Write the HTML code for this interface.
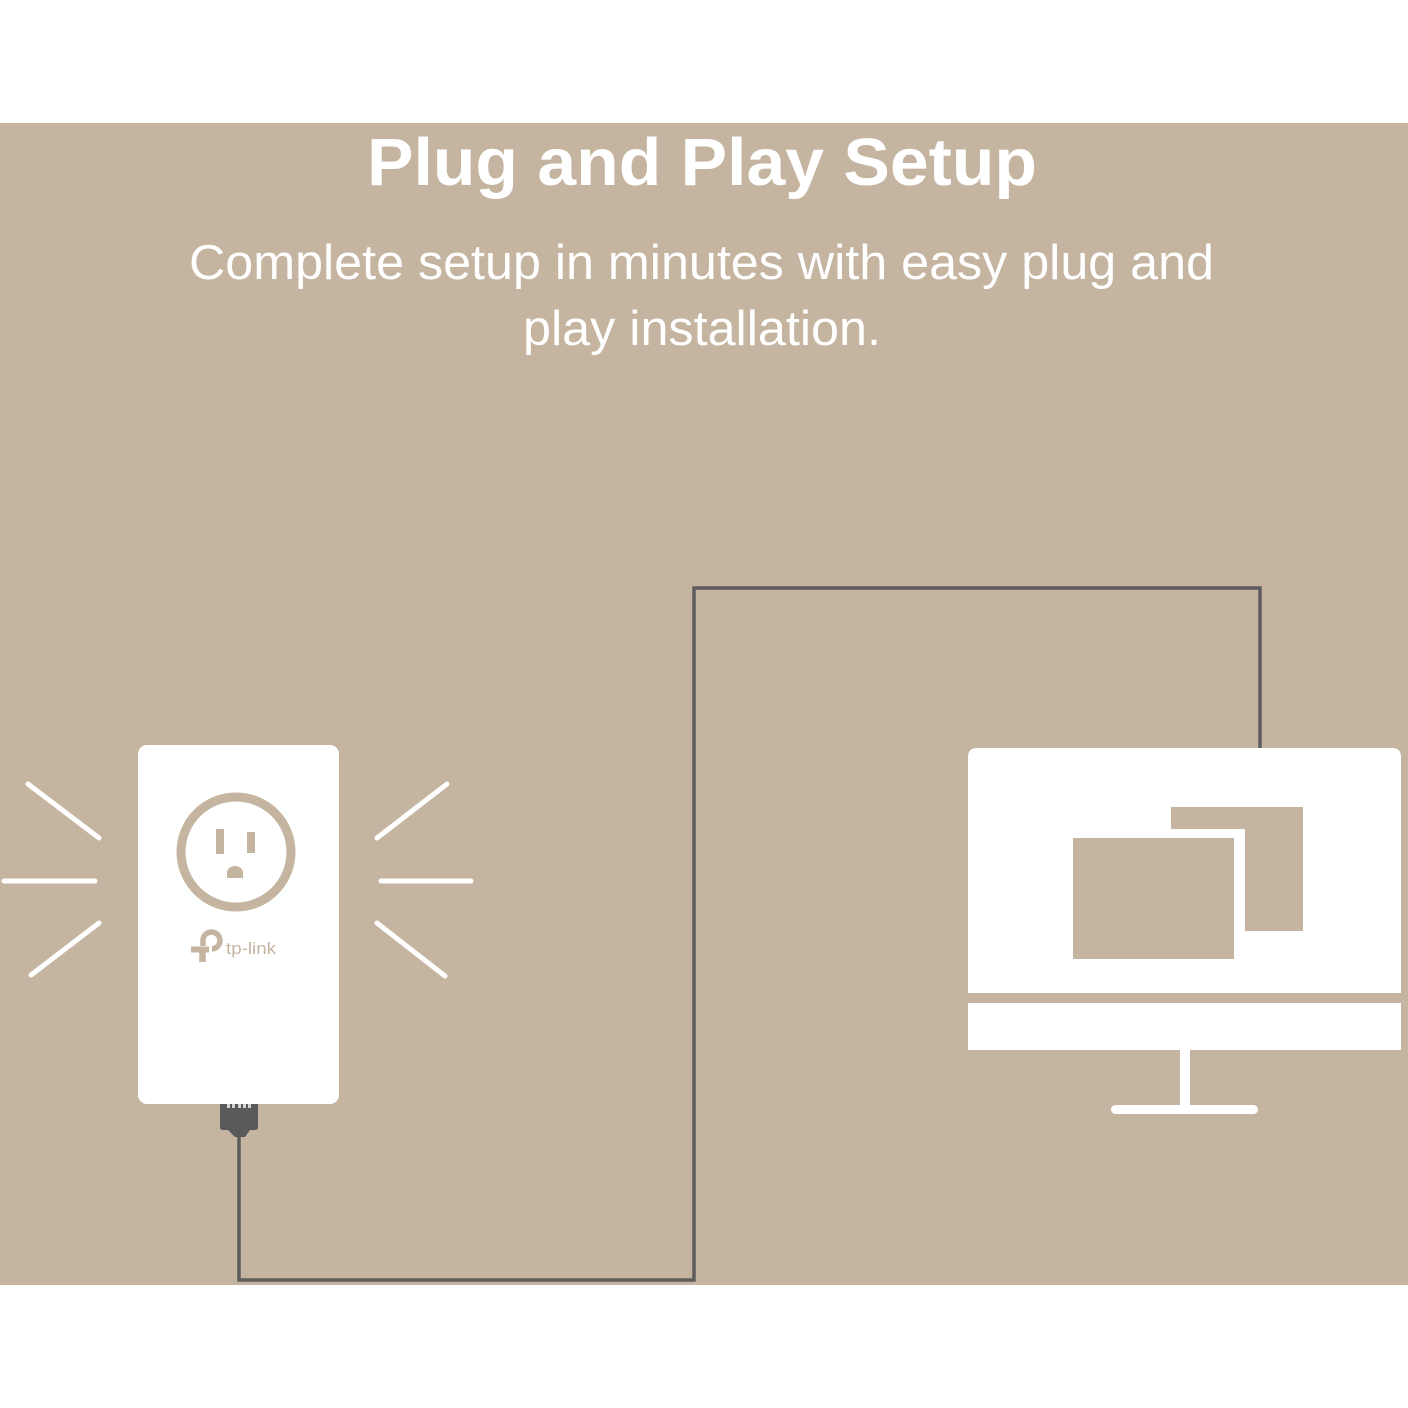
<!DOCTYPE html>
<html lang="en">
<head>
<meta charset="utf-8">
<title>Plug and Play Setup</title>
<style>
html,body{margin:0;padding:0;background:#fff;width:1408px;height:1408px;overflow:hidden}
svg{display:block}
text{font-family:"Liberation Sans",sans-serif}
</style>
</head>
<body>
<svg width="1408" height="1408" viewBox="0 0 1408 1408" xmlns="http://www.w3.org/2000/svg">
<rect width="1408" height="1408" fill="#fff"/>
<rect x="0" y="123" width="1408" height="1162" fill="#c5b4a0"/>

<text x="367" y="185" font-size="67" font-weight="700" fill="#fff" textLength="670" lengthAdjust="spacingAndGlyphs">Plug and Play Setup</text>
<text x="189" y="279" font-size="49" fill="#fff" textLength="1025" lengthAdjust="spacingAndGlyphs">Complete setup in minutes with easy plug and</text>
<text x="523" y="345" font-size="49" fill="#fff" textLength="358" lengthAdjust="spacingAndGlyphs">play installation.</text>

<!-- cable -->
<path d="M239 1130V1280H694V588H1260V748" fill="none" stroke="#5f5d5b" stroke-width="3.500"/>

<!-- plug -->
<path d="M220 1103H258V1127Q258 1130 255 1130H250L245 1137H235L228 1130H223Q220 1130 220 1127Z" fill="#5a5a5c"/>
<g fill="#d8d5d0"><rect x="227" y="1104" width="3" height="4"/><rect x="232" y="1104" width="3" height="4"/><rect x="238" y="1104" width="3" height="4"/><rect x="243" y="1104" width="3" height="4"/><rect x="248" y="1104" width="3" height="4"/></g>

<!-- adapter -->
<rect x="138" y="745" width="201" height="359" rx="9" fill="#fff"/>
<circle cx="236" cy="852" r="55" fill="none" stroke="#c5b4a0" stroke-width="9"/>
<rect x="216" y="829" width="8" height="25" fill="#c5b4a0"/>
<rect x="247" y="832" width="8" height="21" fill="#c5b4a0"/>
<path d="M227 878V873A8 7 0 0 1 243 873V878Z" fill="#c5b4a0"/>

<!-- logo -->
<path d="M191 949.500H209" fill="none" stroke="#c5b4a0" stroke-width="6"/>
<path d="M202.500 949V962" fill="none" stroke="#c5b4a0" stroke-width="6.500"/>
<path d="M203 946V940A8.500 8.500 0 1 1 212 949" fill="none" stroke="#c5b4a0" stroke-width="5.500"/>
<text x="226" y="954" font-size="17" fill="#c5b4a0" textLength="50" lengthAdjust="spacingAndGlyphs">tp-link</text>

<!-- rays -->
<g stroke="#fff" stroke-width="5" stroke-linecap="round" fill="none">
<path d="M28 784L99 838"/>
<path d="M4 881H95"/>
<path d="M31 975L99 923"/>
<path d="M377 838L447 784"/>
<path d="M381 881H471"/>
<path d="M377 923L445 976"/>
</g>

<!-- monitor -->
<path d="M968 993V757Q968 748 977 748H1392Q1401 748 1401 757V993Z" fill="#fff"/>
<rect x="968" y="1003" width="433" height="47" fill="#fff"/>
<rect x="1180" y="1050" width="10" height="58" fill="#fff"/>
<rect x="1111" y="1105" width="147" height="9" rx="4.500" fill="#fff"/>
<path d="M1171 807H1303V931H1245V829H1171Z" fill="#c5b4a0"/>
<rect x="1073" y="838" width="161" height="121" fill="#c5b4a0"/>
</svg>
</body>
</html>
